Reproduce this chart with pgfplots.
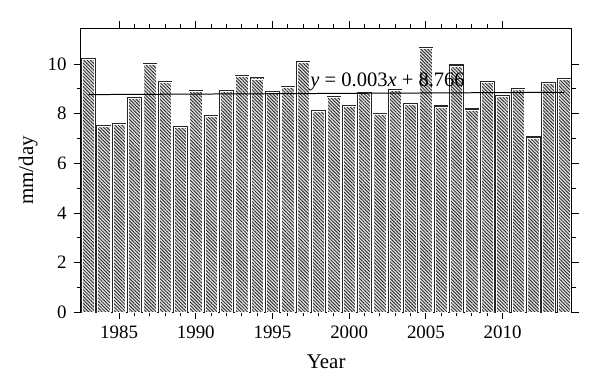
\documentclass[border=0pt]{standalone}
\usepackage{pgfplots}
\usepackage{pgfplotstable}
\pgfplotsset{compat=1.18}
\usepackage{fontspec}
\setmainfont{Liberation Serif}
\usetikzlibrary{patterns.meta}
\pgfplotstableread{
year val
1983 10.23
1984 7.54
1985 7.61
1986 8.66
1987 10.03
1988 9.29
1989 7.50
1990 8.94
1991 7.93
1992 8.94
1993 9.53
1994 9.44
1995 8.91
1996 9.10
1997 10.11
1998 8.12
1999 8.68
2000 8.34
2001 8.85
2002 8.00
2003 8.98
2004 8.42
2005 10.66
2006 8.31
2007 9.96
2008 8.19
2009 9.30
2010 8.75
2011 9.01
2012 7.06
2013 9.25
2014 9.42
}\datatable
\begin{document}
\begin{tikzpicture}
\begin{axis}[
  scale only axis,
  width=245.5bp, height=142bp,
  xmin=1982.5, xmax=2014.5,
  ymin=0, ymax=11.44,
  xtick={1985,1990,1995,2000,2005,2010},
  minor x tick num=4,
  ytick={0,2,4,6,8,10},
  minor y tick num=1,
  tick align=outside,
  major tick length=3.5bp,
  minor tick length=2bp,
  tick style={black, line width=0.5pt},
  axis line style={line width=0.6pt},
  xticklabel style={/pgf/number format/1000 sep={}},
  ticklabel style={font=\fontsize{9.5}{11}\selectfont, /pgf/number format/assume math mode=true},
  xlabel={Year}, ylabel={mm/day},
  label style={font=\fontsize{10.5}{12}\selectfont},
  xlabel style={at={(axis description cs:0.5,-0.174)}, anchor=center},
  ylabel style={at={(axis description cs:-0.107,0.5)}, anchor=center, rotate=0},
  clip=false,
]
\addplot[ybar, bar width=0.87, draw=black!85, line width=0.55pt, fill=black!12,
  postaction={pattern={Lines[angle=-45, distance=1.2pt, line width=0.42pt]}, pattern color=black!85}]
  table[x=year, y=val] {\datatable};
\addplot[ybar, bar width=0.80, draw=white, line width=0.35pt, fill=none]
  table[x=year, y expr=\thisrow{val}-0.04] {\datatable};
\addplot[black, line width=0.5pt] coordinates {(1983,8.769) (2014,8.862)};
\node[anchor=base west, inner sep=0pt, font=\fontsize{10.3}{12}\selectfont] at (axis cs:1997.45,9.09)
  {\textit{y} = 0.003\textit{x} + 8.766};
\coordinate (sw) at (rel axis cs:0,0);
\coordinate (ne) at (rel axis cs:1,1);
\end{axis}
\path ([shift={(-40.35bp,-38.35bp)}]sw) rectangle ([shift={(14.15bp,14.15bp)}]ne);
\end{tikzpicture}
\end{document}
